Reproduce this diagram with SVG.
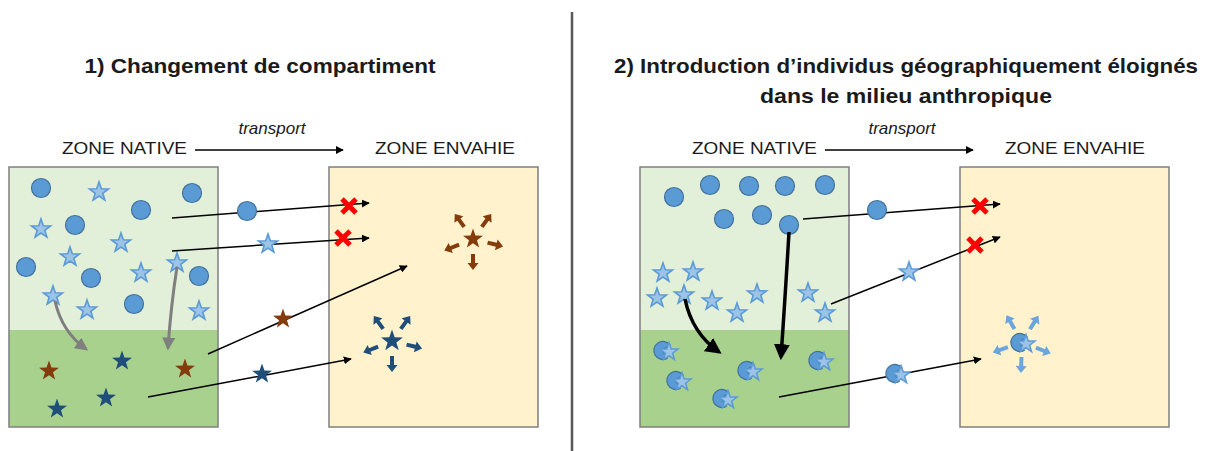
<svg xmlns="http://www.w3.org/2000/svg" xmlns:xlink="http://www.w3.org/1999/xlink" width="1207" height="451" viewBox="0 0 1207 451">
<style>
.title{font-family:"Liberation Sans",Arial,sans-serif;font-weight:bold;font-size:21px;fill:#1a1a1a;text-anchor:middle}
.zone{font-family:"Liberation Sans",Arial,sans-serif;font-size:17px;fill:#1a1a1a}
.tr{font-family:"Liberation Sans",Arial,sans-serif;font-style:italic;font-size:17px;fill:#1a1a1a;text-anchor:middle}
.box{stroke:#7f7f7f;stroke-width:1.5}
.lg{fill:#e2efd9}
.dg{fill:#a9d18e}
.inv{fill:#fff2cc}
.c{fill:#5b9bd5;stroke:#41719c;stroke-width:1.2}
.ls{fill:#9dc3e6;stroke:#5b9bd5;stroke-width:1.6}
.br{fill:#843c0c;stroke:none}
.nv{fill:#1f4e79;stroke:none}
.lb{fill:#6aa6dd;stroke:none}
.ln{fill:none;stroke:#000;stroke-width:1.5}
.gc{fill:none;stroke:#7f7f7f;stroke-width:3}
.bc{fill:none;stroke:#000;stroke-width:3.5}
.x{stroke:#ff0000;stroke-width:5;stroke-linecap:butt}
</style>
<defs>
<path id="st" d="M0,-10 L2.35,-3.24 L9.51,-3.09 L3.8,1.24 L5.88,8.09 L0,4 L-5.88,8.09 L-3.8,1.24 L-9.51,-3.09 L-2.35,-3.24 Z"/>
<path id="ba" d="M0,-2 L9,-2 L9,-5.5 L16,0 L9,5.5 L9,2 L0,2 Z"/>
<g id="hy">
<path class="c" d="M-1,0 L7.16,-4.8 A9,9 0 1,0 4.16,8.37 Z"/>
<use xlink:href="#st" class="ls" transform="translate(6,2) scale(0.95)"/>
</g>
<g id="xx">
<line class="x" x1="-7" y1="-7" x2="7" y2="7"/>
<line class="x" x1="-7" y1="7" x2="7" y2="-7"/>
</g>
<marker id="ah" viewBox="0 0 10 10" refX="9" refY="5" markerWidth="8" markerHeight="8" markerUnits="userSpaceOnUse" orient="auto">
<path d="M0,0 L10,5 L0,10 Z" fill="#000"/>
</marker>
<marker id="gh" viewBox="0 0 10 10" refX="8" refY="5" markerWidth="13" markerHeight="13" markerUnits="userSpaceOnUse" orient="auto">
<path d="M0,0 L10,5 L0,10 Z" fill="#7f7f7f"/>
</marker>
<marker id="bh" viewBox="0 0 10 10" refX="8" refY="5" markerWidth="16" markerHeight="16" markerUnits="userSpaceOnUse" orient="auto">
<path d="M0,0 L10,5 L0,10 Z" fill="#000"/>
</marker>
</defs>
<rect width="1207" height="451" fill="#fff"/>
<line x1="572" y1="12" x2="572" y2="451" stroke="#595959" stroke-width="2.5"/>

<g id="titles">
<text class="title" x="260" y="73" textLength="351" lengthAdjust="spacingAndGlyphs">1) Changement de compartiment</text>
<text class="title" x="906" y="73" textLength="584" lengthAdjust="spacingAndGlyphs">2) Introduction d’individus géographiquement éloignés</text>
<text class="title" x="906" y="103" textLength="292" lengthAdjust="spacingAndGlyphs">dans le milieu anthropique</text>
</g>

<g id="headers">
<text class="zone" x="62" y="154" textLength="125" lengthAdjust="spacingAndGlyphs">ZONE NATIVE</text>
<text class="tr" x="272" y="134">transport</text>
<line x1="195" y1="150" x2="343" y2="150" stroke="#000" stroke-width="1.3" marker-end="url(#ah)"/>
<text class="zone" x="375" y="154" textLength="140" lengthAdjust="spacingAndGlyphs">ZONE ENVAHIE</text>
<text class="zone" x="692" y="154" textLength="125" lengthAdjust="spacingAndGlyphs">ZONE NATIVE</text>
<text class="tr" x="902" y="134">transport</text>
<line x1="825" y1="150" x2="973" y2="150" stroke="#000" stroke-width="1.3" marker-end="url(#ah)"/>
<text class="zone" x="1005" y="154" textLength="140" lengthAdjust="spacingAndGlyphs">ZONE ENVAHIE</text>
</g>

<g id="native1">
<rect class="lg" x="9" y="167" width="209" height="163"/>
<rect class="dg" x="9" y="330" width="209" height="97"/>
<rect class="box" fill="none" x="9" y="167" width="209" height="260"/>
<circle class="c" cx="41" cy="188" r="9.5"/>
<circle class="c" cx="192" cy="193" r="9.5"/>
<circle class="c" cx="141" cy="210" r="9.5"/>
<circle class="c" cx="75" cy="225" r="9.5"/>
<circle class="c" cx="26" cy="267" r="9.5"/>
<circle class="c" cx="91" cy="278" r="9.5"/>
<circle class="c" cx="199" cy="276" r="9.5"/>
<circle class="c" cx="134" cy="304" r="9.5"/>
<use xlink:href="#st" class="ls" transform="translate(99,192)"/>
<use xlink:href="#st" class="ls" transform="translate(41,229)"/>
<use xlink:href="#st" class="ls" transform="translate(121,243)"/>
<use xlink:href="#st" class="ls" transform="translate(70,257)"/>
<use xlink:href="#st" class="ls" transform="translate(141,273)"/>
<use xlink:href="#st" class="ls" transform="translate(177,263)"/>
<use xlink:href="#st" class="ls" transform="translate(53,296)"/>
<use xlink:href="#st" class="ls" transform="translate(87,310)"/>
<use xlink:href="#st" class="ls" transform="translate(199,311)"/>
<use xlink:href="#st" class="br" transform="translate(49,371) scale(1.05)"/>
<use xlink:href="#st" class="nv" transform="translate(122,361) scale(1.05)"/>
<use xlink:href="#st" class="br" transform="translate(185,369) scale(1.05)"/>
<use xlink:href="#st" class="nv" transform="translate(106,398) scale(1.05)"/>
<use xlink:href="#st" class="nv" transform="translate(57,409) scale(1.05)"/>
</g>

<g id="invaded1">
<rect class="inv box" x="329" y="167" width="209" height="260"/>
<use xlink:href="#st" class="br" transform="translate(473,239) scale(1.05)"/>
<g transform="translate(473,239)">
<use xlink:href="#ba" class="br" transform="rotate(-126) translate(15,0)"/>
<use xlink:href="#ba" class="br" transform="rotate(-54) translate(15,0)"/>
<use xlink:href="#ba" class="br" transform="rotate(14) translate(15,0)"/>
<use xlink:href="#ba" class="br" transform="rotate(90) translate(15,0)"/>
<use xlink:href="#ba" class="br" transform="rotate(158) translate(15,0)"/>
</g>
<use xlink:href="#st" class="nv" transform="translate(392,341) scale(1.15)"/>
<g transform="translate(392,341)">
<use xlink:href="#ba" class="nv" transform="rotate(-126) translate(15,0)"/>
<use xlink:href="#ba" class="nv" transform="rotate(-54) translate(15,0)"/>
<use xlink:href="#ba" class="nv" transform="rotate(14) translate(15,0)"/>
<use xlink:href="#ba" class="nv" transform="rotate(90) translate(15,0)"/>
<use xlink:href="#ba" class="nv" transform="rotate(158) translate(15,0)"/>
</g>
</g>

<g id="native2">
<rect class="lg" x="640" y="167" width="209" height="163"/>
<rect class="dg" x="640" y="330" width="209" height="97"/>
<rect class="box" fill="none" x="640" y="167" width="209" height="260"/>
<circle class="c" cx="674" cy="197" r="9.5"/>
<circle class="c" cx="710" cy="185" r="9.5"/>
<circle class="c" cx="749" cy="186" r="9.5"/>
<circle class="c" cx="785" cy="186" r="9.5"/>
<circle class="c" cx="825" cy="185" r="9.5"/>
<circle class="c" cx="724" cy="219" r="9.5"/>
<circle class="c" cx="762" cy="215" r="9.5"/>
<circle class="c" cx="789" cy="225" r="9.5"/>
<use xlink:href="#st" class="ls" transform="translate(663,273)"/>
<use xlink:href="#st" class="ls" transform="translate(693,272)"/>
<use xlink:href="#st" class="ls" transform="translate(657,298)"/>
<use xlink:href="#st" class="ls" transform="translate(684,295)"/>
<use xlink:href="#st" class="ls" transform="translate(712,301)"/>
<use xlink:href="#st" class="ls" transform="translate(737,313)"/>
<use xlink:href="#st" class="ls" transform="translate(757,294)"/>
<use xlink:href="#st" class="ls" transform="translate(808,293)"/>
<use xlink:href="#st" class="ls" transform="translate(825,313)"/>
<use xlink:href="#hy" transform="translate(663,350)"/>
<use xlink:href="#hy" transform="translate(676,380)"/>
<use xlink:href="#hy" transform="translate(747,370)"/>
<use xlink:href="#hy" transform="translate(722,398)"/>
<use xlink:href="#hy" transform="translate(818,360)"/>
</g>

<g id="invaded2">
<rect class="inv box" x="960" y="167" width="209" height="260"/>
<use xlink:href="#hy" transform="translate(1020,342)"/>
<g transform="translate(1022,342)">
<use xlink:href="#ba" class="lb" transform="rotate(-120) translate(15,0)"/>
<use xlink:href="#ba" class="lb" transform="rotate(-58) translate(15,0)"/>
<use xlink:href="#ba" class="lb" transform="rotate(22) translate(15,0)"/>
<use xlink:href="#ba" class="lb" transform="rotate(92) translate(15,0)"/>
<use xlink:href="#ba" class="lb" transform="rotate(160) translate(15,0)"/>
</g>
</g>

<g id="connectors">
<path class="gc" d="M55,301 Q62,332 86,349" marker-end="url(#gh)"/>
<path class="gc" d="M177,267 Q171,305 168,348" marker-end="url(#gh)"/>
<line class="ln" x1="172" y1="218" x2="369" y2="203" marker-end="url(#ah)"/>
<line class="ln" x1="172" y1="251" x2="369" y2="238" marker-end="url(#ah)"/>
<line class="ln" x1="208" y1="354" x2="407" y2="266" marker-end="url(#ah)"/>
<line class="ln" x1="148" y1="397" x2="351" y2="359" marker-end="url(#ah)"/>
<path class="bc" d="M685,299 Q692,333 719,352" marker-end="url(#bh)"/>
<path class="bc" d="M789,232 Q785,300 781,357" marker-end="url(#bh)"/>
<line class="ln" x1="803" y1="219" x2="1000" y2="204" marker-end="url(#ah)"/>
<line class="ln" x1="831" y1="304" x2="1000" y2="237" marker-end="url(#ah)"/>
<line class="ln" x1="779" y1="397" x2="981" y2="359" marker-end="url(#ah)"/>
</g>

<g id="travellers">
<circle class="c" cx="247" cy="211" r="9.5"/>
<use xlink:href="#st" class="ls" transform="translate(268,244)"/>
<use xlink:href="#st" class="br" transform="translate(283,319) scale(1.05)"/>
<use xlink:href="#st" class="nv" transform="translate(262,374) scale(1.05)"/>
<use xlink:href="#xx" transform="translate(349,206)"/>
<use xlink:href="#xx" transform="translate(343,238)"/>
<circle class="c" cx="877" cy="210" r="9.5"/>
<use xlink:href="#st" class="ls" transform="translate(909,272)"/>
<use xlink:href="#hy" transform="translate(895,373)"/>
<use xlink:href="#xx" transform="translate(980,206)"/>
<use xlink:href="#xx" transform="translate(975,245)"/>
</g>
</svg>
